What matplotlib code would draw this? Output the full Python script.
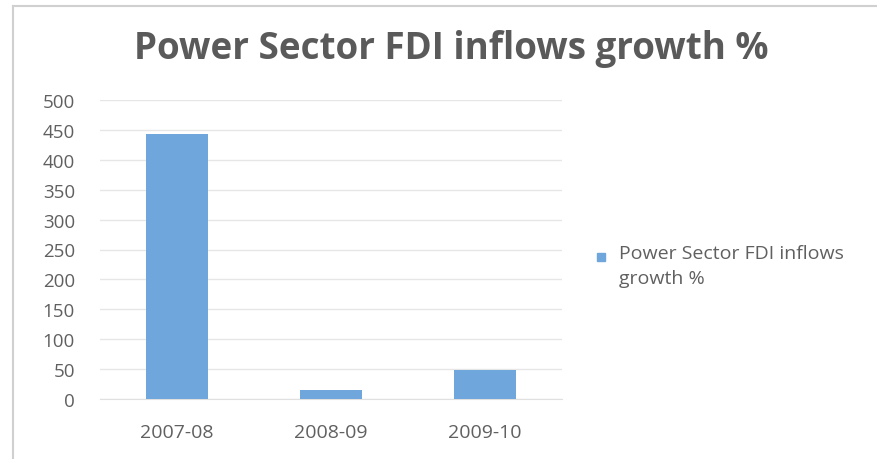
import matplotlib.pyplot as plt
from matplotlib.lines import Line2D
from matplotlib.patches import Rectangle

# Data
years = ['2007-08', '2008-09', '2009-10']
growth = [443, 15, 48]
y_ticks = [0, 50, 100, 150, 200, 250, 300, 350, 400, 450, 500]

bar_color = '#6fa7dd'
text_grey = '#606060'

plt.rcParams['font.family'] = ['Open Sans', 'DejaVu Sans']

fig = plt.figure(figsize=(8.78, 4.6), dpi=100)
ax = fig.add_axes([100 / 878, 60 / 460, 462 / 878, 299 / 460])

x = range(len(years))
ax.bar(x, growth, width=0.4, color=bar_color, zorder=3)

ax.set_xlim(-0.5, 2.5)
ax.set_ylim(0, 500)
ax.set_yticks(y_ticks)
ax.set_xticks(list(x))
ax.set_xticklabels(years)
ax.grid(axis='y', color='#e6e6e6', linewidth=1, zorder=0)
ax.tick_params(axis='both', length=0, colors=text_grey)
ax.tick_params(axis='x', labelsize=14, pad=17)
ax.tick_params(axis='y', labelsize=13.5, pad=18)
for side in ['top', 'right', 'left']:
    ax.spines[side].set_visible(False)
ax.spines['bottom'].set_color('#e0e0e0')

# Title
fig.text(451 / 878, 1 - 49 / 460, 'Power Sector FDI inflows growth %',
         ha='center', va='center', fontsize=26.5, fontweight='bold', color='#5a5a5a')

# Legend
fig.patches.append(Rectangle((597 / 878, 1 - 262 / 460), 8 / 878, 8 / 460,
                             transform=fig.transFigure, color=bar_color))
fig.text(619 / 878, 1 - 245 / 460, 'Power Sector FDI inflows\ngrowth %',
         ha='left', va='top', fontsize=14, color=text_grey, linespacing=1.5)

# Chart frame
fig.add_artist(Line2D([13 / 878, 13 / 878], [0, 1 - 7 / 460],
                      transform=fig.transFigure, color='#d0d0d0', linewidth=1.5))
fig.add_artist(Line2D([13 / 878, 1], [1 - 7 / 460, 1 - 7 / 460],
                      transform=fig.transFigure, color='#d0d0d0', linewidth=1.5))

fig.savefig('out.png', dpi=100)
